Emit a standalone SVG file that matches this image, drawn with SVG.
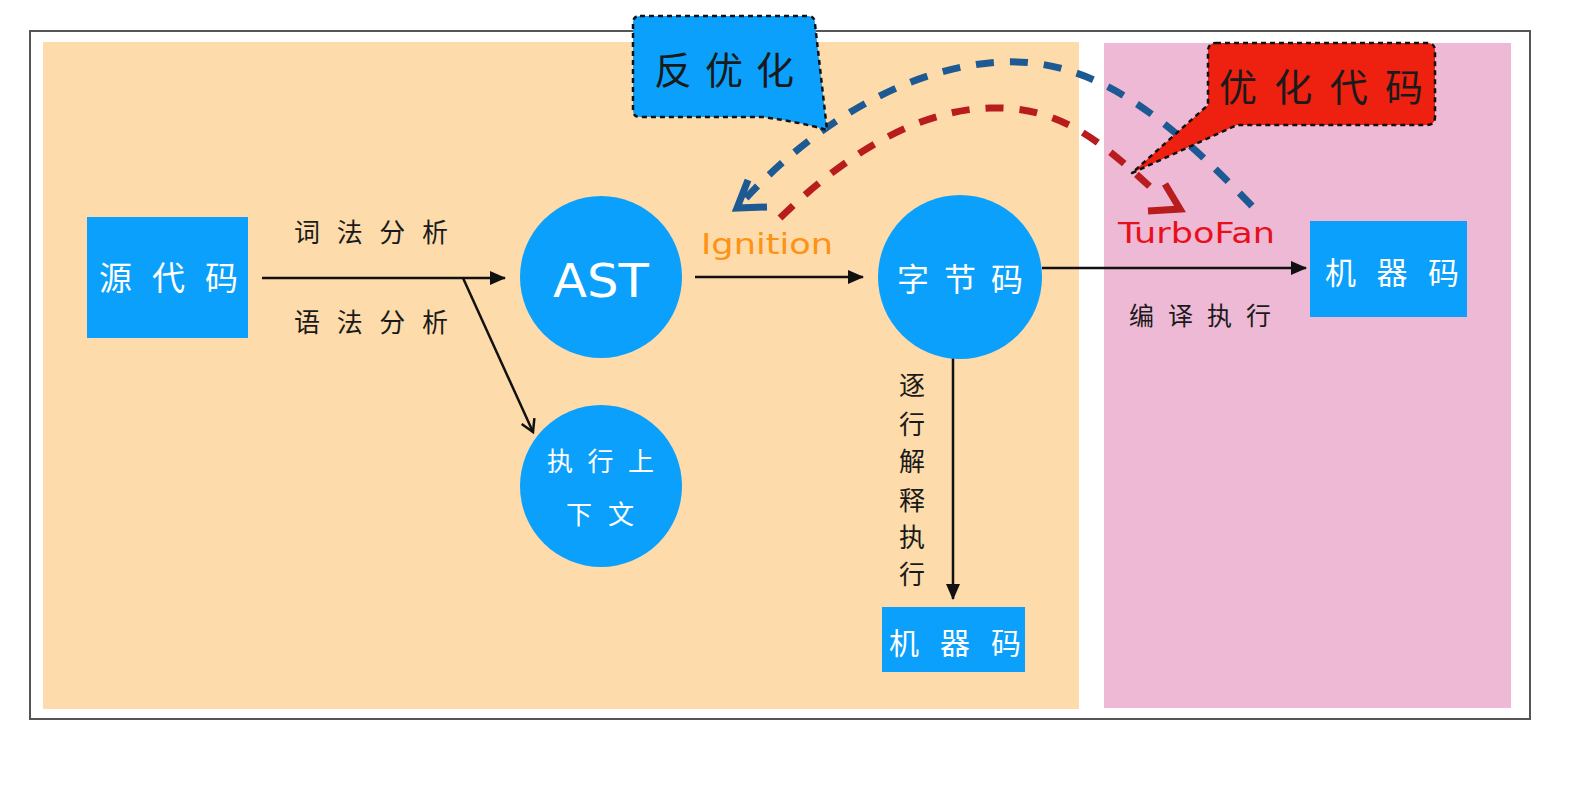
<svg xmlns="http://www.w3.org/2000/svg" width="1570" height="790" viewBox="0 0 1570 790">
<defs>
<style>
.cn{font-family:"Noto Sans CJK SC","Noto Sans",sans-serif;}
.lat{font-family:"DejaVu Sans","Noto Sans",sans-serif;}
.w{fill:#ffffff;}
.k{fill:#1a1a1a;}
.node{fill:#0aa0fb;}
.line{stroke:#111;stroke-width:2.5;fill:none;}
.dashB{stroke:#1d5a93;stroke-width:7;fill:none;stroke-dasharray:18 16;}
.dashR{stroke:#b81c1c;stroke-width:7;fill:none;stroke-dasharray:18 16;}
.bubble{stroke:#111;stroke-width:2.5;stroke-dasharray:5 4;stroke-linejoin:round;}
</style>
<marker id="tri" markerWidth="16" markerHeight="14" refX="15" refY="7" orient="auto" markerUnits="userSpaceOnUse">
<path d="M0,0 L16,7 L0,14 Z" fill="#111"/>
</marker>
<marker id="vee" markerWidth="18" markerHeight="18" refX="15" refY="9" orient="auto" markerUnits="userSpaceOnUse">
<path d="M3,2 L15,9 L3,16" fill="none" stroke="#111" stroke-width="2.5"/>
</marker>
</defs>
<rect x="0" y="0" width="1570" height="790" fill="#ffffff"/>
<rect x="30" y="31" width="1500" height="688" fill="#ffffff" stroke="#555" stroke-width="2"/>
<rect id="panel-ignition" x="43" y="42" width="1036" height="667" fill="#fddbab"/>
<rect id="panel-turbofan" x="1104" y="43" width="407" height="665" fill="#eeb9d5"/>

<g id="connectors">
<line class="line" x1="262" y1="278" x2="505" y2="278" marker-end="url(#tri)"/>
<line class="line" x1="463" y1="278" x2="533" y2="432" marker-end="url(#vee)"/>
<line class="line" x1="695" y1="277" x2="863" y2="277" marker-end="url(#tri)"/>
<line class="line" x1="1042" y1="268" x2="1306" y2="268" marker-end="url(#tri)"/>
<line class="line" x1="953" y1="358" x2="953" y2="599" marker-end="url(#tri)"/>
<path class="dashB" d="M1252,206 C1160,110 1090,58 1000,62 C900,68 810,130 746,198"/>
<polyline points="748,180 737,208 767,207" fill="none" stroke="#1d5a93" stroke-width="7" stroke-linejoin="miter"/>
<path class="dashR" d="M780,218 C850,150 920,110 990,108 C1060,106 1100,140 1160,196"/>
<polyline points="1165,184 1180,209 1148,211" fill="none" stroke="#b81c1c" stroke-width="7" stroke-linejoin="miter"/>
<text class="cn k" x="294" y="242" font-size="26" textLength="154" lengthAdjust="spacing">词法分析</text>
<text class="cn k" x="294" y="332" font-size="26" textLength="154" lengthAdjust="spacing">语法分析</text>
<text class="lat" x="701" y="254" font-size="28" fill="#ff9214" textLength="132" lengthAdjust="spacingAndGlyphs">Ignition</text>
<text class="lat" x="1118" y="243" font-size="28" fill="#e8101a" textLength="157" lengthAdjust="spacingAndGlyphs">TurboFan</text>
<text class="cn k" x="1129" y="325" font-size="25" textLength="142" lengthAdjust="spacing">编译执行</text>
<g class="cn k" font-size="26" text-anchor="middle">
<text x="912" y="395">逐</text>
<text x="912" y="434">行</text>
<text x="912" y="471">解</text>
<text x="912" y="510">释</text>
<text x="912" y="547">执</text>
<text x="912" y="584">行</text>
</g>
</g>

<g id="source">
<rect class="node" x="87" y="217" width="161" height="121"/>
<text class="cn w" x="99" y="290" font-size="33" textLength="139" lengthAdjust="spacing">源代码</text>
</g>
<g id="ast">
<circle class="node" cx="601" cy="277" r="81"/>
<text class="lat" x="553" y="297" font-size="46" fill="#fff" textLength="96" lengthAdjust="spacingAndGlyphs">AST</text>
</g>
<g id="context">
<circle class="node" cx="601" cy="486" r="81"/>
<text class="cn w" x="547" y="471" font-size="26" textLength="107" lengthAdjust="spacing">执行上</text>
<text class="cn w" x="566" y="524" font-size="26" textLength="68" lengthAdjust="spacing">下文</text>
</g>
<g id="bytecode">
<circle class="node" cx="960" cy="277" r="82"/>
<text class="cn w" x="897" y="291" font-size="32" textLength="126" lengthAdjust="spacing">字节码</text>
</g>
<g id="machine-code-right">
<rect class="node" x="1310" y="221" width="157" height="96"/>
<text class="cn w" x="1325" y="284" font-size="31" textLength="134" lengthAdjust="spacing">机器码</text>
</g>
<g id="machine-code-bottom">
<rect class="node" x="882" y="607" width="143" height="65"/>
<text class="cn w" x="889" y="654" font-size="30" textLength="132" lengthAdjust="spacing">机器码</text>
</g>
<g id="deopt-bubble">
<path class="bubble" fill="#0aa0fb" d="M640,16 L808,16 Q815,16 815,24 L827,130 Q800,122 763,117 L640,117 Q633,117 633,110 L633,23 Q633,16 640,16 Z"/>
<text class="cn k" x="654" y="84" font-size="38" textLength="140" lengthAdjust="spacing">反优化</text>
</g>
<g id="opt-bubble">
<path class="bubble" fill="#ee2010" d="M1216,43 L1427,43 Q1435,43 1435,51 L1435,117 Q1435,125 1427,125 L1237,125 L1132,173 L1208,105 L1208,51 Q1208,43 1216,43 Z"/>
<text class="cn k" x="1219" y="101" font-size="38" textLength="204" lengthAdjust="spacing">优化代码</text>
</g>
</svg>
